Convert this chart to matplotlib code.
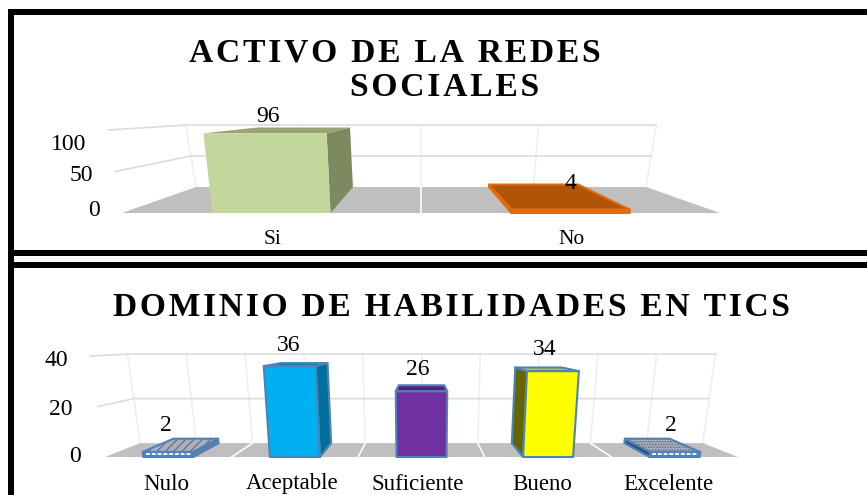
import matplotlib
matplotlib.use("Agg")
import matplotlib.pyplot as plt
from matplotlib.patches import Polygon, Rectangle

W, H = 867, 495
plt.rcParams["font.family"] = ["Liberation Serif", "DejaVu Serif"]
plt.rcParams["hatch.linewidth"] = 0.8

# ---- data ----
cats_top = ["Si", "No"]
vals_top = [96, 4]
ticks_top = [0, 50, 100]
title_top = ["ACTIVO DE LA REDES", "SOCIALES"]

cats_bot = ["Nulo", "Aceptable", "Suficiente", "Bueno", "Excelente"]
vals_bot = [2, 36, 26, 34, 2]
ticks_bot = [0, 20, 40]
title_bot = "DOMINIO DE HABILIDADES EN TICS"

# (front, side, top)
faces_top = [("#C3D69B", "#7D8A5F", "#98A674"), ("#E36C0A", "#B55405", "#B05506")]
edges_top = [None, "#E36C0A"]
faces_bot = [("#4F81BD", "#5B7FA8", "#A9B0BA"), ("#00B0F0", "#006F99", "#007FAE"),
             ("#7030A0", "#4A2069", "#562079"), ("#FFFF00", "#666600", "#C4C400"),
             ("#4F81BD", "#30507A", "#A9B0BA")]
hatches_bot = ["////", None, None, None, "......"]


def track(s, sep="\u200a"):
    return sep.join(s)


def panel(fig, rect, cat0_px, cat_px, y0_px, unit_px):
    """Axes over a pixel rectangle; data x = category, data y = front-plane value."""
    x0, y0, x1, y1 = rect
    ax = fig.add_axes([x0 / W, 1 - y1 / H, (x1 - x0) / W, (y1 - y0) / H])
    ax.set_xlim((x0 - cat0_px) / cat_px - 0.5, (x1 - cat0_px) / cat_px - 0.5)
    ax.set_ylim((y0_px - y1) / unit_px, (y0_px - y0) / unit_px)
    ax.axis("off")
    ax.patch.set_alpha(0)
    return ax


def draw_chart(ax, cats, vals, ticks, faces, edges, hatches, rx, ry, shift, k,
               tick_off, val_off, cat_off, fs_cat, lw):
    n = len(cats)
    cc = (n - 1) / 2
    vmax = max(ticks)

    def P(c, v, d):
        x = cc + (c - cc) * (1 - d * (1 - rx)) * (1 + k * v / vmax)
        y = v * (1 - d * (1 - ry)) + d * shift
        return x, y

    left, right = -0.5, n - 0.5
    # floor
    ax.add_patch(Polygon([P(left, 0, 0), P(right, 0, 0), P(right, 0, 1), P(left, 0, 1)],
                         fc="#BFBFBF", ec="none", zorder=1))
    for i in range(1, n):
        c = left + i
        ax.plot(*zip(P(c, 0, 1), P(c, 0, 0)), color="white", lw=1.2, zorder=1.5)
    # walls
    for i in range(2 * n + 1):
        c = left + i / 2
        ax.plot(*zip(P(c, 0, 1), P(c, vmax, 1)), color="#EFEFEF", lw=1.2, zorder=0.5)
    for t in ticks[1:]:
        ax.plot(*zip(P(left, t, 0), P(left, t, 1), P(right, t, 1)),
                color="#DCDCDC", lw=1.2, zorder=0.7)
    # bars
    w = 0.395 / 2
    for i, v in enumerate(vals):
        front, side, top = faces[i]
        ec = edges[i] if edges else None
        h = hatches[i] if hatches else None
        a, b = i - w, i + w
        kw = dict(lw=lw if ec else 0, ec=ec if ec else "none", joinstyle="round", zorder=3)
        # side faces
        sc = b if i < cc else a
        if i != cc:
            ax.add_patch(Polygon([P(sc, 0, 0), P(sc, 0, 1), P(sc, v, 1), P(sc, v, 0)], fc=side, **kw))
        # top face
        tp = [P(a, v, 0), P(b, v, 0), P(b, v, 1), P(a, v, 1)]
        if h:
            ax.add_patch(Polygon(tp, fc=top, ec="#5F6B7A", hatch=h, lw=0, zorder=3))
            ax.add_patch(Polygon(tp, fc="none", ec=ec, lw=lw, zorder=3.1))
        else:
            ax.add_patch(Polygon(tp, fc=top, **kw))
        # front face
        fp = [P(a, 0, 0), P(b, 0, 0), P(b, v, 0), P(a, v, 0)]
        ax.add_patch(Polygon(fp, fc=front, **{**kw, "zorder": 3.2}))
        if h:
            ax.plot(*zip(P(a + .02, v / 2, 0), P(b - .02, v / 2, 0)), color="white", lw=1.3,
                    ls=(0, (2.2, 1)), zorder=3.3)
        # value label
        tx, ty = P(i, v, 1)
        ax.annotate(str(v), (i, ty), xytext=val_off[i], textcoords="offset pixels",
                    ha="center", va="center", fontsize=17, color="black", zorder=5)
        ax.annotate(cats[i], (i, 0), xytext=cat_off[i], textcoords="offset pixels",
                    ha="center", va="center", fontsize=fs_cat, color="black", zorder=5)
    # tick labels
    for t, off in zip(ticks, tick_off):
        ax.annotate(str(t), P(left, t, 0), xytext=off, textcoords="offset pixels",
                    ha="right", va="center", fontsize=17, color="black", zorder=5)


fig = plt.figure(figsize=(W / 100, H / 100), dpi=100, facecolor="white")

ax1 = panel(fig, (14, 15, 867, 250), 122, 299, 213, 0.83)
draw_chart(ax1, cats_top, vals_top, ticks_top, faces_top, edges_top, None,
           rx=0.7525, ry=0.747, shift=31.3, k=0.045,
           tick_off=[(-22, 3), (-22, -4), (-22, -14)],
           val_off=[(-3, 11), (0, 1)], cat_off=[(1, -26), (1, -26)], fs_cat=15.5, lw=1.5)

ax2 = panel(fig, (14, 268, 867, 495), 105, 126.6, 457, 2.525)
draw_chart(ax2, cats_bot, vals_bot, ticks_bot, faces_bot, ["#4F81BD"] * 5, hatches_bot,
           rx=0.889, ry=0.881, shift=5.5, k=0.045,
           tick_off=[(-24, 0), (-25, -3), (-23, -4)],
           val_off=[(-2, 13), (-6, 18), (-4, 16), (-3, 18), (-4, 13)],
           cat_off=[(-2, -27), (-3, -27), (-4, -27), (-6, -27), (-6, -27)], fs_cat=16.5, lw=1.5)

# titles
fig.text(189 / W, 1 - 62 / H, track(title_top[0]), fontsize=24.2, fontweight="bold", color="black", ha="left", va="baseline")
fig.text(350 / W, 1 - 96 / H, track(title_top[1]), fontsize=24.2, fontweight="bold", color="black", ha="left", va="baseline")
fig.text(113 / W, 1 - 316 / H, track(title_bot), fontsize=24.1, fontweight="bold", color="black", ha="left", va="baseline")

# frame
for x, y, w_, h_ in [(8, 9, W - 8, 6), (8, 9, 6, H - 9), (8, 250, W - 8, 6), (8, 262, W - 8, 6)]:
    fig.add_artist(Rectangle((x / W, 1 - (y + h_) / H), w_ / W, h_ / H, transform=fig.transFigure,
                             fc="black", ec="none", zorder=10))

fig.savefig("out.png", dpi=100)
